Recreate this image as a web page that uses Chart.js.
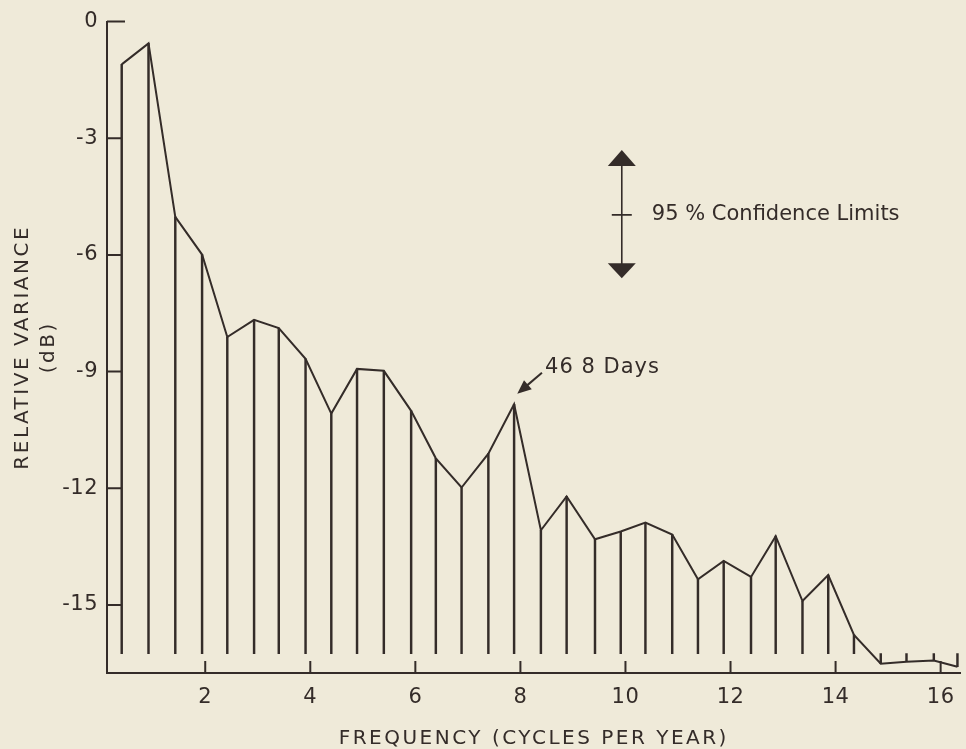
<!DOCTYPE html>
<html>
<head>
<meta charset="utf-8">
<script src="https://cdn.jsdelivr.net/npm/chart.js@4.4.1/dist/chart.umd.min.js"></script>
<style>
	html, body { margin: 0; padding: 0; background: #efead9; }
	canvas { display: block; }
</style>
</head>
<body>
<canvas id="Spectrum_Plot" width="966" height="749"></canvas>
<script>

// Values
const frequency = [0.41, 0.92, 1.43, 1.94, 2.42, 2.93, 3.40, 3.91, 4.40, 4.89, 5.40, 5.92, 6.39, 6.88, 7.39, 7.88,
	8.39, 8.88, 9.42, 9.91, 10.38, 10.89, 11.38, 11.87, 12.39, 12.86, 13.37, 13.86, 14.35, 14.86, 15.35, 15.87, 16.32];
const relative_variance = [-1.10, -0.56, -5.02, -5.99, -8.11, -7.67, -7.88, -8.67, -10.08, -8.93, -8.98, -10.01, -11.23, -11.98, -11.11, -9.84,
	-13.08, -12.21, -13.31, -13.11, -12.88, -13.19, -14.34, -13.87, -14.28, -13.23, -14.90, -14.23, -15.77, -16.51, -16.46, -16.43, -16.59];
const stem_base = -16.25;   // the vertical lines all start here

const x_tick_values = [2, 4, 6, 8, 10, 12, 14, 16];
const y_tick_values = [0, -3, -6, -9, -12, -15];

const confidence_label = "95 % Confidence Limits";
const confidence_marker = { x: 9.93, top: -3.30, mid: -4.97, bottom: -6.60 };
const days_label = "46 8 Days";
const days_marker = { text_x: 8.47, text_y: -8.90, tail_x: 8.41, tail_y: -9.03, tip_x: 7.94, tip_y: -9.57 };

const ink = "#342c29";
const paper = "#efead9";
const font_family = "'DejaVu Sans', sans-serif";

Chart.defaults.font.family = font_family;
Chart.defaults.color = ink;


const stem_data = frequency.map((f, i) => ({ x: f, y: [stem_base, relative_variance[i]] }));
const line_data = frequency.map((f, i) => ({ x: f, y: relative_variance[i] }));


function draw_arrow_head(ctx, tipX, tipY, fromX, fromY, len, half) {
	const a = Math.atan2(tipY - fromY, tipX - fromX);
	ctx.beginPath();
	ctx.moveTo(tipX, tipY);
	ctx.lineTo(tipX - len * Math.cos(a) + half * Math.sin(a), tipY - len * Math.sin(a) - half * Math.cos(a));
	ctx.lineTo(tipX - len * Math.cos(a) - half * Math.sin(a), tipY - len * Math.sin(a) + half * Math.cos(a));
	ctx.closePath();
	ctx.fill();
}


const paper_plugin = {
	id: "paper",
	beforeDraw(chart) {
		const ctx = chart.ctx;
		ctx.save();
		ctx.fillStyle = paper;
		ctx.fillRect(0, 0, chart.width, chart.height);
		ctx.restore();
		ctx.letterSpacing = "2.5px";   // the hand lettering of the axis titles is spaced out
	},
	beforeDatasetsDraw(chart) {
		chart.ctx.letterSpacing = "0.5px";
	},
	afterDraw(chart) {
		const ctx = chart.ctx;
		const xs = chart.scales.x;
		const ys = chart.scales.y;
		ctx.save();
		ctx.strokeStyle = ink;
		ctx.fillStyle = ink;
		ctx.lineWidth = 2;

		// tick marks point into the plot
		ctx.beginPath();
		ys.ticks.forEach(t => {
			const py = ys.getPixelForValue(t.value);
			ctx.moveTo(ys.right, py);
			ctx.lineTo(ys.right + (t.value === 0 ? 18 : 14), py);
		});
		xs.ticks.forEach(t => {
			const px = xs.getPixelForValue(t.value);
			ctx.moveTo(px, xs.top);
			ctx.lineTo(px, xs.top - 12);
		});
		ctx.stroke();

		// confidence limits marker
		const cx = xs.getPixelForValue(confidence_marker.x);
		const cTop = ys.getPixelForValue(confidence_marker.top);
		const cMid = ys.getPixelForValue(confidence_marker.mid);
		const cBot = ys.getPixelForValue(confidence_marker.bottom);
		ctx.lineWidth = 1.6;
		ctx.beginPath();
		ctx.moveTo(cx, cTop + 10);
		ctx.lineTo(cx, cBot - 10);
		ctx.moveTo(cx - 10, cMid);
		ctx.lineTo(cx + 10, cMid);
		ctx.stroke();
		draw_arrow_head(ctx, cx, cTop, cx, cTop + 30, 16, 14);
		draw_arrow_head(ctx, cx, cBot, cx, cBot - 30, 15, 14);

		ctx.font = "21px " + font_family;
		ctx.textBaseline = "middle";
		ctx.textAlign = "left";
		ctx.letterSpacing = "0px";
		ctx.fillText(confidence_label, cx + 30, cMid);

		// period label with its arrow
		const tailX = xs.getPixelForValue(days_marker.tail_x);
		const tailY = ys.getPixelForValue(days_marker.tail_y);
		const tipX = xs.getPixelForValue(days_marker.tip_x);
		const tipY = ys.getPixelForValue(days_marker.tip_y);
		ctx.lineWidth = 2;
		ctx.beginPath();
		ctx.moveTo(tailX, tailY);
		ctx.lineTo(tipX + (tailX - tipX) * 0.4, tipY + (tailY - tipY) * 0.4);
		ctx.stroke();
		draw_arrow_head(ctx, tipX, tipY, tailX, tailY, 14, 6);

		ctx.letterSpacing = "1px";
		ctx.fillText(days_label, xs.getPixelForValue(days_marker.text_x), ys.getPixelForValue(days_marker.text_y));
		ctx.restore();
	}
};


var Spectrum_Plot_Obj = new Chart(document.getElementById("Spectrum_Plot").getContext("2d"), {
	type: "line",
	data: {
		datasets: [
			{
				// spectral estimate joined up
				type: "line",
				data: line_data,
				fill: false,
				tension: 0,
				borderColor: ink,
				borderWidth: 2,
				pointRadius: 0,
			},
			{
				// vertical line at every frequency
				type: "bar",
				data: stem_data,
				backgroundColor: ink,
				borderWidth: 0,
				barThickness: 1.8,
			}
		]
	},
	options: {
		responsive: false,
		animation: false,
		layout: { padding: { top: 19, right: 0, bottom: 0, left: 0 } },
		plugins: {
			legend: { display: false },
			tooltip: { enabled: false },
		},
		scales: {
			x: {
				type: "linear",
				min: 0.13,
				max: 16.38,
				offset: false,
				afterBuildTicks: s => { s.ticks = x_tick_values.map(v => ({ value: v })); },
				afterFit: s => { s.height = 76; },
				grid: { display: false, drawTicks: false },
				border: { display: true, color: ink, width: 2 },
				ticks: { z: 1, padding: 12, color: ink, font: { size: 21 }, maxRotation: 0, autoSkip: false },
				title: {
					display: true,
					text: "FREQUENCY (CYCLES PER YEAR)",
					color: ink,
					font: { size: 20, lineHeight: 1 },
					padding: { top: 0, bottom: 0 },
				}
			},
			y: {
				type: "linear",
				min: -16.75,
				max: 0,
				afterBuildTicks: s => { s.ticks = y_tick_values.map(v => ({ value: v })); },
				afterFit: s => { s.width = 107; },
				grid: { display: false, drawTicks: false },
				border: { display: true, color: ink, width: 2 },
				ticks: { z: 1, padding: 9, color: ink, font: { size: 21 } },
				title: {
					display: true,
					text: ["RELATIVE VARIANCE", "(dB)"],
					color: ink,
					font: { size: 20, lineHeight: 1.3 },
					padding: { top: 10, bottom: 0 },
				}
			}
		},
		events: [],
	},
	plugins: [paper_plugin]
});

</script>
</body>
</html>
